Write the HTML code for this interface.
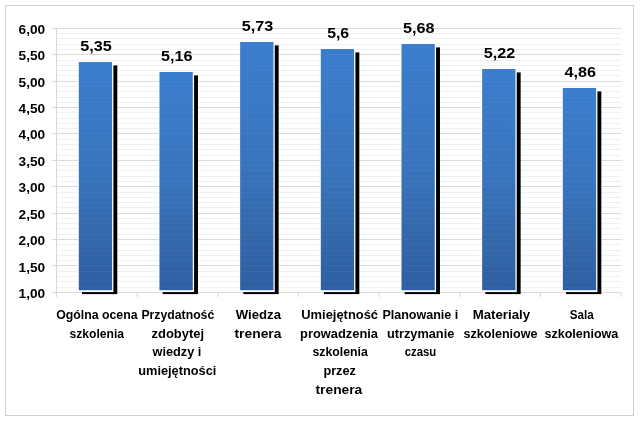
<!DOCTYPE html>
<html lang="pl"><head><meta charset="utf-8"><title>Ocena szkolenia</title>
<style>html,body{margin:0;padding:0;background:#fff}svg{display:block}text{font-family:"Liberation Sans",sans-serif;font-weight:bold;fill:#000}</style></head><body>
<svg width="640" height="421" viewBox="0 0 640 421">
<defs><linearGradient id="g" x1="0" y1="0" x2="0" y2="1"><stop offset="0" stop-color="#3a7dce"/><stop offset="0.5" stop-color="#3874bc"/><stop offset="0.785" stop-color="#3367aa"/><stop offset="1" stop-color="#2e5fa3"/></linearGradient></defs>
<rect width="640" height="421" fill="#fff"/>
<rect x="5.5" y="5.5" width="628" height="410" fill="none" stroke="#d0d0d0" stroke-width="1"/>
<line x1="56.5" x2="621.2" y1="33.50" y2="33.50" stroke="#eef1f6" stroke-width="1"/>
<line x1="56.5" x2="621.2" y1="38.50" y2="38.50" stroke="#eef1f6" stroke-width="1"/>
<line x1="56.5" x2="621.2" y1="44.50" y2="44.50" stroke="#eef1f6" stroke-width="1"/>
<line x1="56.5" x2="621.2" y1="49.50" y2="49.50" stroke="#eef1f6" stroke-width="1"/>
<line x1="56.5" x2="621.2" y1="60.50" y2="60.50" stroke="#eef1f6" stroke-width="1"/>
<line x1="56.5" x2="621.2" y1="65.50" y2="65.50" stroke="#eef1f6" stroke-width="1"/>
<line x1="56.5" x2="621.2" y1="70.50" y2="70.50" stroke="#eef1f6" stroke-width="1"/>
<line x1="56.5" x2="621.2" y1="75.50" y2="75.50" stroke="#eef1f6" stroke-width="1"/>
<line x1="56.5" x2="621.2" y1="86.50" y2="86.50" stroke="#eef1f6" stroke-width="1"/>
<line x1="56.5" x2="621.2" y1="91.50" y2="91.50" stroke="#eef1f6" stroke-width="1"/>
<line x1="56.5" x2="621.2" y1="97.50" y2="97.50" stroke="#eef1f6" stroke-width="1"/>
<line x1="56.5" x2="621.2" y1="102.50" y2="102.50" stroke="#eef1f6" stroke-width="1"/>
<line x1="56.5" x2="621.2" y1="112.50" y2="112.50" stroke="#eef1f6" stroke-width="1"/>
<line x1="56.5" x2="621.2" y1="118.50" y2="118.50" stroke="#eef1f6" stroke-width="1"/>
<line x1="56.5" x2="621.2" y1="123.50" y2="123.50" stroke="#eef1f6" stroke-width="1"/>
<line x1="56.5" x2="621.2" y1="128.50" y2="128.50" stroke="#eef1f6" stroke-width="1"/>
<line x1="56.5" x2="621.2" y1="139.50" y2="139.50" stroke="#eef1f6" stroke-width="1"/>
<line x1="56.5" x2="621.2" y1="144.50" y2="144.50" stroke="#eef1f6" stroke-width="1"/>
<line x1="56.5" x2="621.2" y1="149.50" y2="149.50" stroke="#eef1f6" stroke-width="1"/>
<line x1="56.5" x2="621.2" y1="155.50" y2="155.50" stroke="#eef1f6" stroke-width="1"/>
<line x1="56.5" x2="621.2" y1="165.50" y2="165.50" stroke="#eef1f6" stroke-width="1"/>
<line x1="56.5" x2="621.2" y1="170.50" y2="170.50" stroke="#eef1f6" stroke-width="1"/>
<line x1="56.5" x2="621.2" y1="176.50" y2="176.50" stroke="#eef1f6" stroke-width="1"/>
<line x1="56.5" x2="621.2" y1="181.50" y2="181.50" stroke="#eef1f6" stroke-width="1"/>
<line x1="56.5" x2="621.2" y1="192.50" y2="192.50" stroke="#eef1f6" stroke-width="1"/>
<line x1="56.5" x2="621.2" y1="197.50" y2="197.50" stroke="#eef1f6" stroke-width="1"/>
<line x1="56.5" x2="621.2" y1="202.50" y2="202.50" stroke="#eef1f6" stroke-width="1"/>
<line x1="56.5" x2="621.2" y1="207.50" y2="207.50" stroke="#eef1f6" stroke-width="1"/>
<line x1="56.5" x2="621.2" y1="218.50" y2="218.50" stroke="#eef1f6" stroke-width="1"/>
<line x1="56.5" x2="621.2" y1="223.50" y2="223.50" stroke="#eef1f6" stroke-width="1"/>
<line x1="56.5" x2="621.2" y1="228.50" y2="228.50" stroke="#eef1f6" stroke-width="1"/>
<line x1="56.5" x2="621.2" y1="234.50" y2="234.50" stroke="#eef1f6" stroke-width="1"/>
<line x1="56.5" x2="621.2" y1="244.50" y2="244.50" stroke="#eef1f6" stroke-width="1"/>
<line x1="56.5" x2="621.2" y1="250.50" y2="250.50" stroke="#eef1f6" stroke-width="1"/>
<line x1="56.5" x2="621.2" y1="255.50" y2="255.50" stroke="#eef1f6" stroke-width="1"/>
<line x1="56.5" x2="621.2" y1="260.50" y2="260.50" stroke="#eef1f6" stroke-width="1"/>
<line x1="56.5" x2="621.2" y1="271.50" y2="271.50" stroke="#eef1f6" stroke-width="1"/>
<line x1="56.5" x2="621.2" y1="276.50" y2="276.50" stroke="#eef1f6" stroke-width="1"/>
<line x1="56.5" x2="621.2" y1="281.50" y2="281.50" stroke="#eef1f6" stroke-width="1"/>
<line x1="56.5" x2="621.2" y1="287.50" y2="287.50" stroke="#eef1f6" stroke-width="1"/>
<line x1="52.0" x2="621.2" y1="28.50" y2="28.50" stroke="#dbdbdb" stroke-width="1"/>
<line x1="52.0" x2="621.2" y1="54.50" y2="54.50" stroke="#dbdbdb" stroke-width="1"/>
<line x1="52.0" x2="621.2" y1="81.50" y2="81.50" stroke="#dbdbdb" stroke-width="1"/>
<line x1="52.0" x2="621.2" y1="107.50" y2="107.50" stroke="#dbdbdb" stroke-width="1"/>
<line x1="52.0" x2="621.2" y1="133.50" y2="133.50" stroke="#dbdbdb" stroke-width="1"/>
<line x1="52.0" x2="621.2" y1="160.50" y2="160.50" stroke="#dbdbdb" stroke-width="1"/>
<line x1="52.0" x2="621.2" y1="186.50" y2="186.50" stroke="#dbdbdb" stroke-width="1"/>
<line x1="52.0" x2="621.2" y1="213.50" y2="213.50" stroke="#dbdbdb" stroke-width="1"/>
<line x1="52.0" x2="621.2" y1="239.50" y2="239.50" stroke="#dbdbdb" stroke-width="1"/>
<line x1="52.0" x2="621.2" y1="265.50" y2="265.50" stroke="#dbdbdb" stroke-width="1"/>
<line x1="52.0" x2="621.2" y1="292.50" y2="292.50" stroke="#dbdbdb" stroke-width="1"/>
<line x1="56.5" x2="56.5" y1="28.4" y2="292.3" stroke="#d8d8d8" stroke-width="1"/>
<line x1="56.50" x2="56.50" y1="292.5" y2="297" stroke="#d8d8d8" stroke-width="1"/>
<line x1="137.17" x2="137.17" y1="292.5" y2="297" stroke="#d8d8d8" stroke-width="1"/>
<line x1="217.84" x2="217.84" y1="292.5" y2="297" stroke="#d8d8d8" stroke-width="1"/>
<line x1="298.51" x2="298.51" y1="292.5" y2="297" stroke="#d8d8d8" stroke-width="1"/>
<line x1="379.19" x2="379.19" y1="292.5" y2="297" stroke="#d8d8d8" stroke-width="1"/>
<line x1="459.86" x2="459.86" y1="292.5" y2="297" stroke="#d8d8d8" stroke-width="1"/>
<line x1="540.53" x2="540.53" y1="292.5" y2="297" stroke="#d8d8d8" stroke-width="1"/>
<line x1="621.20" x2="621.20" y1="292.5" y2="297" stroke="#d8d8d8" stroke-width="1"/>
<text x="18.6" y="33.60" font-size="12.8" textLength="26.6" lengthAdjust="spacingAndGlyphs">6,00</text>
<text x="18.6" y="60.06" font-size="12.8" textLength="26.6" lengthAdjust="spacingAndGlyphs">5,50</text>
<text x="18.6" y="86.52" font-size="12.8" textLength="26.6" lengthAdjust="spacingAndGlyphs">5,00</text>
<text x="18.6" y="112.98" font-size="12.8" textLength="26.6" lengthAdjust="spacingAndGlyphs">4,50</text>
<text x="18.6" y="139.44" font-size="12.8" textLength="26.6" lengthAdjust="spacingAndGlyphs">4,00</text>
<text x="18.6" y="165.90" font-size="12.8" textLength="26.6" lengthAdjust="spacingAndGlyphs">3,50</text>
<text x="18.6" y="192.36" font-size="12.8" textLength="26.6" lengthAdjust="spacingAndGlyphs">3,00</text>
<text x="18.6" y="218.82" font-size="12.8" textLength="26.6" lengthAdjust="spacingAndGlyphs">2,50</text>
<text x="18.6" y="245.28" font-size="12.8" textLength="26.6" lengthAdjust="spacingAndGlyphs">2,00</text>
<text x="18.6" y="271.74" font-size="12.8" textLength="26.6" lengthAdjust="spacingAndGlyphs">1,50</text>
<text x="18.6" y="298.20" font-size="12.8" textLength="26.6" lengthAdjust="spacingAndGlyphs">1,00</text>
<rect x="82.00" y="65.40" width="35.30" height="228.70" fill="#000"/>
<rect x="78.20" y="61.40" width="35.20" height="230.70" fill="#fff"/>
<rect x="78.80" y="62.00" width="33.30" height="228.20" fill="url(#g)"/>
<text x="80.39" y="50.70" font-size="15" textLength="31.5" lengthAdjust="spacingAndGlyphs">5,35</text>
<rect x="162.67" y="75.40" width="35.30" height="218.70" fill="#000"/>
<rect x="158.87" y="71.40" width="35.20" height="220.70" fill="#fff"/>
<rect x="159.47" y="72.00" width="33.30" height="218.20" fill="url(#g)"/>
<text x="161.06" y="60.70" font-size="15" textLength="31.5" lengthAdjust="spacingAndGlyphs">5,16</text>
<rect x="243.34" y="45.40" width="35.30" height="248.70" fill="#000"/>
<rect x="239.54" y="41.40" width="35.20" height="250.70" fill="#fff"/>
<rect x="240.14" y="42.00" width="33.30" height="248.20" fill="url(#g)"/>
<text x="241.73" y="30.70" font-size="15" textLength="31.5" lengthAdjust="spacingAndGlyphs">5,73</text>
<rect x="324.01" y="52.40" width="35.30" height="241.70" fill="#000"/>
<rect x="320.21" y="48.40" width="35.20" height="243.70" fill="#fff"/>
<rect x="320.81" y="49.00" width="33.30" height="241.20" fill="url(#g)"/>
<text x="327.15" y="37.70" font-size="15" textLength="22.0" lengthAdjust="spacingAndGlyphs">5,6</text>
<rect x="404.68" y="47.40" width="35.30" height="246.70" fill="#000"/>
<rect x="400.88" y="43.40" width="35.20" height="248.70" fill="#fff"/>
<rect x="401.48" y="44.00" width="33.30" height="246.20" fill="url(#g)"/>
<text x="403.07" y="32.70" font-size="15" textLength="31.5" lengthAdjust="spacingAndGlyphs">5,68</text>
<rect x="485.35" y="72.40" width="35.30" height="221.70" fill="#000"/>
<rect x="481.55" y="68.40" width="35.20" height="223.70" fill="#fff"/>
<rect x="482.15" y="69.00" width="33.30" height="221.20" fill="url(#g)"/>
<text x="483.74" y="57.70" font-size="15" textLength="31.5" lengthAdjust="spacingAndGlyphs">5,22</text>
<rect x="566.02" y="91.40" width="35.30" height="202.70" fill="#000"/>
<rect x="562.22" y="87.40" width="35.20" height="204.70" fill="#fff"/>
<rect x="562.82" y="88.00" width="33.30" height="202.20" fill="url(#g)"/>
<text x="564.41" y="76.70" font-size="15" textLength="31.5" lengthAdjust="spacingAndGlyphs">4,86</text>
<clipPath id="bc"><rect x="78.80" y="62" width="33.3" height="228"/><rect x="159.47" y="72" width="33.3" height="218"/><rect x="240.14" y="42" width="33.3" height="248"/><rect x="320.81" y="49" width="33.3" height="241"/><rect x="401.48" y="44" width="33.3" height="246"/><rect x="482.15" y="69" width="33.3" height="221"/><rect x="562.82" y="88" width="33.3" height="202"/></clipPath>
<g clip-path="url(#bc)" stroke="#fff" stroke-opacity="0.035" stroke-width="1">
<line x1="56.5" x2="621.2" y1="28.5" y2="28.5"/>
<line x1="56.5" x2="621.2" y1="33.5" y2="33.5"/>
<line x1="56.5" x2="621.2" y1="38.5" y2="38.5"/>
<line x1="56.5" x2="621.2" y1="44.5" y2="44.5"/>
<line x1="56.5" x2="621.2" y1="49.5" y2="49.5"/>
<line x1="56.5" x2="621.2" y1="54.5" y2="54.5"/>
<line x1="56.5" x2="621.2" y1="60.5" y2="60.5"/>
<line x1="56.5" x2="621.2" y1="65.5" y2="65.5"/>
<line x1="56.5" x2="621.2" y1="70.5" y2="70.5"/>
<line x1="56.5" x2="621.2" y1="75.5" y2="75.5"/>
<line x1="56.5" x2="621.2" y1="81.5" y2="81.5"/>
<line x1="56.5" x2="621.2" y1="86.5" y2="86.5"/>
<line x1="56.5" x2="621.2" y1="91.5" y2="91.5"/>
<line x1="56.5" x2="621.2" y1="97.5" y2="97.5"/>
<line x1="56.5" x2="621.2" y1="102.5" y2="102.5"/>
<line x1="56.5" x2="621.2" y1="107.5" y2="107.5"/>
<line x1="56.5" x2="621.2" y1="112.5" y2="112.5"/>
<line x1="56.5" x2="621.2" y1="118.5" y2="118.5"/>
<line x1="56.5" x2="621.2" y1="123.5" y2="123.5"/>
<line x1="56.5" x2="621.2" y1="128.5" y2="128.5"/>
<line x1="56.5" x2="621.2" y1="133.5" y2="133.5"/>
<line x1="56.5" x2="621.2" y1="139.5" y2="139.5"/>
<line x1="56.5" x2="621.2" y1="144.5" y2="144.5"/>
<line x1="56.5" x2="621.2" y1="149.5" y2="149.5"/>
<line x1="56.5" x2="621.2" y1="155.5" y2="155.5"/>
<line x1="56.5" x2="621.2" y1="160.5" y2="160.5"/>
<line x1="56.5" x2="621.2" y1="165.5" y2="165.5"/>
<line x1="56.5" x2="621.2" y1="170.5" y2="170.5"/>
<line x1="56.5" x2="621.2" y1="176.5" y2="176.5"/>
<line x1="56.5" x2="621.2" y1="181.5" y2="181.5"/>
<line x1="56.5" x2="621.2" y1="186.5" y2="186.5"/>
<line x1="56.5" x2="621.2" y1="192.5" y2="192.5"/>
<line x1="56.5" x2="621.2" y1="197.5" y2="197.5"/>
<line x1="56.5" x2="621.2" y1="202.5" y2="202.5"/>
<line x1="56.5" x2="621.2" y1="207.5" y2="207.5"/>
<line x1="56.5" x2="621.2" y1="213.5" y2="213.5"/>
<line x1="56.5" x2="621.2" y1="218.5" y2="218.5"/>
<line x1="56.5" x2="621.2" y1="223.5" y2="223.5"/>
<line x1="56.5" x2="621.2" y1="228.5" y2="228.5"/>
<line x1="56.5" x2="621.2" y1="234.5" y2="234.5"/>
<line x1="56.5" x2="621.2" y1="239.5" y2="239.5"/>
<line x1="56.5" x2="621.2" y1="244.5" y2="244.5"/>
<line x1="56.5" x2="621.2" y1="250.5" y2="250.5"/>
<line x1="56.5" x2="621.2" y1="255.5" y2="255.5"/>
<line x1="56.5" x2="621.2" y1="260.5" y2="260.5"/>
<line x1="56.5" x2="621.2" y1="265.5" y2="265.5"/>
<line x1="56.5" x2="621.2" y1="271.5" y2="271.5"/>
<line x1="56.5" x2="621.2" y1="276.5" y2="276.5"/>
<line x1="56.5" x2="621.2" y1="281.5" y2="281.5"/>
<line x1="56.5" x2="621.2" y1="287.5" y2="287.5"/>
<line x1="56.5" x2="621.2" y1="292.5" y2="292.5"/>
</g>
<text x="56.15" y="319.00" font-size="13" textLength="81.4" lengthAdjust="spacingAndGlyphs">Ogólna ocena</text>
<text x="69.50" y="337.67" font-size="13" textLength="54.5" lengthAdjust="spacingAndGlyphs">szkolenia</text>
<text x="141.45" y="319.00" font-size="13" textLength="72.8" lengthAdjust="spacingAndGlyphs">Przydatność</text>
<text x="151.50" y="337.67" font-size="13" textLength="52.5" lengthAdjust="spacingAndGlyphs">zdobytej</text>
<text x="152.60" y="356.34" font-size="13" textLength="48.8" lengthAdjust="spacingAndGlyphs">wiedzy i</text>
<text x="138.20" y="375.01" font-size="13" textLength="78.2" lengthAdjust="spacingAndGlyphs">umiejętności</text>
<text x="235.80" y="319.00" font-size="13" textLength="45.2" lengthAdjust="spacingAndGlyphs">Wiedza</text>
<text x="234.50" y="337.67" font-size="13" textLength="46.9" lengthAdjust="spacingAndGlyphs">trenera</text>
<text x="301.30" y="319.00" font-size="13" textLength="76.7" lengthAdjust="spacingAndGlyphs">Umiejętność</text>
<text x="300.10" y="337.67" font-size="13" textLength="77.9" lengthAdjust="spacingAndGlyphs">prowadzenia</text>
<text x="312.40" y="356.34" font-size="13" textLength="55.4" lengthAdjust="spacingAndGlyphs">szkolenia</text>
<text x="323.40" y="375.01" font-size="13" textLength="32.5" lengthAdjust="spacingAndGlyphs">przez</text>
<text x="315.50" y="393.68" font-size="13" textLength="46.8" lengthAdjust="spacingAndGlyphs">trenera</text>
<text x="382.40" y="319.00" font-size="13" textLength="75.9" lengthAdjust="spacingAndGlyphs">Planowanie i</text>
<text x="386.90" y="337.67" font-size="13" textLength="67.4" lengthAdjust="spacingAndGlyphs">utrzymanie</text>
<text x="404.80" y="356.34" font-size="13" textLength="31.5" lengthAdjust="spacingAndGlyphs">czasu</text>
<text x="472.70" y="319.00" font-size="13" textLength="57.4" lengthAdjust="spacingAndGlyphs">Materialy</text>
<text x="463.50" y="337.67" font-size="13" textLength="74.0" lengthAdjust="spacingAndGlyphs">szkoleniowe</text>
<text x="569.80" y="319.00" font-size="13" textLength="23.9" lengthAdjust="spacingAndGlyphs">Sala</text>
<text x="544.50" y="337.67" font-size="13" textLength="73.8" lengthAdjust="spacingAndGlyphs">szkoleniowa</text>
</svg></body></html>
